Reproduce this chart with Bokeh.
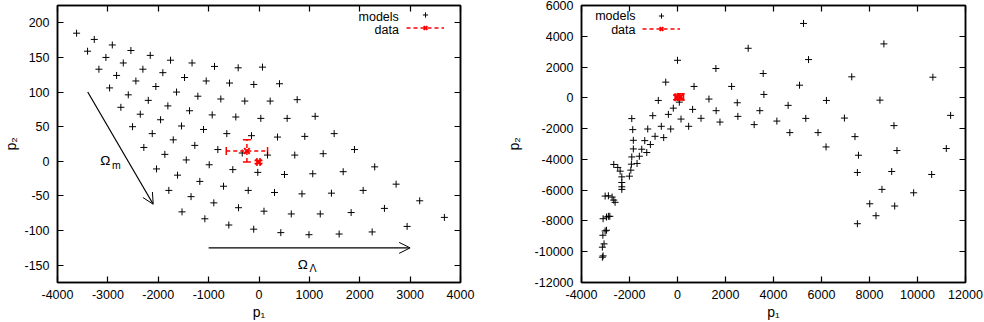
from bokeh.plotting import figure
from bokeh.models import (Arrow, OpenHead, Label, Legend, LegendItem, LinearAxis,
                          FixedTicker, Range1d, Whisker, TeeHead, ColumnDataSource)
from bokeh.layouts import row
from bokeh.embed import file_html
from bokeh.resources import INLINE

FONT = "Liberation Sans"

# ---------------- data: left panel ----------------
left_models_p1 = [
    -3621, -3270, -2912, -2543, -2159, -1756, -1329, -883, -413, 69,
    -3403, -3039, -2694, -2305, -1909, -1478, -1048, -585, -103, 407,
    -3178, -2827, -2444, -2048, -1637, -1214, -758, -282, 222, 758,
    -2966, -2595, -2198, -1809, -1379, -929, -460, 36, 559, 1115,
    -2742, -2357, -1954, -1538, -1101, -639, -149, 367, 909, 1492,
    -2510, -2119, -1702, -1274, -817, -333, 169, 710, 1274, 1895,
    -2286, -1869, -1444, -988, -520, -24, 506, 1067, 1671, 2297,
    -2034, -1617, -1175, -704, -214, 308, 853, 1438, 2067, 2722,
    -1790, -1349, -897, -407, 99, 641, 1216, 1829, 2490, 3190,
    -1528, -1075, -599, -105, 433, 992, 1591, 2246, 2940, 3680]
left_models_p2 = [
    185, 176, 168, 160, 153, 146, 142, 137, 135, 136,
    159, 150, 142, 133, 128, 121, 116, 113, 111, 112,
    133, 124, 116, 108, 100, 94, 90, 87, 87, 89,
    106, 96, 88, 80, 73, 67, 64, 62, 62, 65,
    78, 68, 60, 51, 46, 40, 37, 35, 36, 40,
    50, 40, 31, 23, 17, 12, 9, 9, 11, 17,
    20, 10, 2, -5, -12, -16, -19, -18, -15, -8,
    -11, -20, -29, -36, -42, -45, -47, -46, -42, -33,
    -42, -51, -60, -67, -72, -76, -76, -74, -68, -57,
    -73, -83, -92, -98, -103, -106, -105, -102, -94, -81]
left_data_p1 = [-240, -10]
left_data_p2 = [15, -1]
left_data_err_p1 = [410, 30]
left_data_err_p2 = [16, 2]

# ---------------- data: right panel ----------------
right_models_p1 = [
    0, -490, 690, -800, 1310, 75, -175, 630, 1610, -380,
    -1030, 146, 980, 1770, -1905, -675, 465, -1865, -1240, -283,
    -935, -575, -1840, -1365, -1130, -1840, -1490, -1280, -1905, -1590,
    -2655, -2490, -1920, -1685, -2390, -2320, -2320, -2320, -2320, -1945,
    -2005, -3015, -2880, -2725, -2655, -2600, -3100, -2960, -2880, -2820,
    -3015, -2960, -3110, -3060, -3130, -3100, -3130,
    2255, 2490, 2515, 1600, 2945, 5250, 8600, 5460, 3570, 7260,
    10640, 5085, 3600, 6205, 8435, 3430, 4610, 11380, 3195, 4140,
    5345, 6955, 9020, 4680, 5855, 7395, 6190, 7540, 9145, 11200,
    7495, 8925, 10590, 8520, 9840, 8010, 9050, 8270, 7495]
right_models_p2 = [
    2440, 1020, 740, -170, -80, -280, -670, -750, -835, -1075,
    -1160, -1380, -1330, -1575, -1350, -1850, -1850, -2065, -2025, -2025,
    -2500, -2585, -2760, -2780, -3035, -3320, -3340, -3555, -3840, -3795,
    -4330, -4525, -4310, -4265, -4765, -5135, -5500, -5780, -5950, -4700,
    -5090, -6385, -6365, -6450, -6645, -6790, -7855, -7745, -7700, -7700,
    -8650, -8605, -8930, -9490, -9705, -10270, -10355,
    740, -320, -1205, 1905, 3220, 4835, 3505, 2485, 1580, 1365,
    1340, 820, 220, -170, -150, -835, -490, -1140, -1740, -1510,
    -1335, -1315, -1805, -2260, -2260, -2520, -3190, -3730, -3425, -3295,
    -4850, -4785, -4980, -5950, -6170, -6885, -7030, -7660, -8180]
right_data_p1 = [-20, 130]
right_data_p2 = [30, 60]
right_data_err_p1 = [80, 120]
right_data_err_p2 = [150, 200]

# ---------------- ticks ----------------
left_xticks = [-4000, -3000, -2000, -1000, 0, 1000, 2000, 3000, 4000]
left_yticks = [-150, -100, -50, 0, 50, 100, 150, 200]
right_xticks = [-4000, -2000, 0, 2000, 4000, 6000, 8000, 10000, 12000]
right_yticks = [-12000, -10000, -8000, -6000, -4000, -2000, 0, 2000, 4000, 6000]

legend_labels = ["models", "data"]
axis_labels = ["p\u2081", "p\u2082"]


def style_axis(ax, ticks, show_labels=True):
    ax.ticker = FixedTicker(ticks=ticks)
    ax.major_tick_in = 6
    ax.major_tick_out = 0
    ax.minor_tick_line_color = None
    ax.axis_line_width = 1.5
    ax.major_tick_line_width = 1.2
    if show_labels:
        ax.major_label_overrides = {t: str(t) for t in ticks}
        ax.major_label_text_font = FONT
        ax.major_label_text_font_size = "12.5px"
        ax.major_label_text_color = "black"
        ax.major_label_standoff = 8
        ax.axis_label_text_font = FONT
        ax.axis_label_text_font_size = "14px"
        ax.axis_label_text_font_style = "normal"
        ax.axis_label_text_color = "black"
    else:
        ax.major_label_text_font_size = "0px"
        ax.major_label_text_color = None
        ax.major_label_standoff = 0


def panel(width, border_left, border_right, border_top, xr, yr, xticks, yticks,
          mx, my, dx, dy, ex, ey, legend_loc, legend_text_x, legend_text_y,
          ylabel_standoff):
    p = figure(width=width, height=322, output_backend="svg", toolbar_location=None,
               x_range=Range1d(*xr), y_range=Range1d(*yr),
               min_border_left=border_left, min_border_right=border_right,
               min_border_top=border_top, min_border_bottom=0)
    p.grid.visible = False
    p.outline_line_color = "black"
    p.outline_line_width = 1.5
    p.background_fill_color = "white"
    p.border_fill_color = "white"

    style_axis(p.xaxis[0], xticks)
    style_axis(p.yaxis[0], yticks)
    p.xaxis.axis_label = axis_labels[0]
    p.yaxis.axis_label = axis_labels[1]
    p.xaxis.major_label_standoff = 7
    p.xaxis.axis_label_standoff = 2
    p.yaxis.axis_label_standoff = ylabel_standoff

    top_ax = LinearAxis()
    style_axis(top_ax, xticks, False)
    p.add_layout(top_ax, "above")
    right_ax = LinearAxis()
    style_axis(right_ax, yticks, False)
    p.add_layout(right_ax, "right")

    models_r = p.scatter(mx, my, marker="cross", size=7, line_color="black",
                         line_width=1)

    src = ColumnDataSource(dict(
        x=dx, y=dy,
        xl=[a - b for a, b in zip(dx, ex)], xh=[a + b for a, b in zip(dx, ex)],
        yl=[a - b for a, b in zip(dy, ey)], yh=[a + b for a, b in zip(dy, ey)]))
    seg_h = p.segment(x0="xl", y0="y", x1="xh", y1="y", source=src,
                      line_color="red", line_width=1.5, line_dash="4 3")
    p.segment(x0="x", y0="yl", x1="x", y1="yh", source=src,
              line_color="red", line_width=1.5, line_dash="4 3")
    for dim, base, lo, hi in (("width", "y", "xl", "xh"), ("height", "x", "yl", "yh")):
        w = Whisker(source=src, base=base, lower=lo, upper=hi, dimension=dim,
                    line_alpha=0,
                    lower_head=TeeHead(size=8, line_color="red", line_width=1.5),
                    upper_head=TeeHead(size=8, line_color="red", line_width=1.5))
        p.add_layout(w)
    data_r = p.scatter("x", "y", source=src, marker="x", size=8, line_color="red",
                       line_width=2)

    leg = Legend(items=[LegendItem(label=" ", renderers=[models_r]),
                        LegendItem(label=" ", renderers=[seg_h, data_r])],
                 location=legend_loc, orientation="vertical",
                 glyph_width=38, glyph_height=13, label_height=13, label_width=0,
                 label_standoff=0, spacing=0, padding=0, margin=0,
                 border_line_color=None, background_fill_alpha=0,
                 label_text_font_size="10px", label_text_color=None)
    p.add_layout(leg)
    for txt, ty in zip(legend_labels, legend_text_y):
        p.add_layout(Label(x=legend_text_x, y=ty, text=txt, text_align="right",
                           text_baseline="middle", text_font=FONT,
                           text_font_size="12.5px", text_color="black"))
    return p


left = panel(490, 57, 30, 3, (-4000, 4000), (-175, 225), left_xticks, left_yticks,
             left_models_p1, left_models_p2, left_data_p1, left_data_p2,
             left_data_err_p1, left_data_err_p2,
             (349, 248), 2776, (208.3, 189.3), 2)

# arrows and parameter labels (left panel)
arrow_m = dict(x_start=-3400, y_start=100, x_end=-2100, y_end=-62)
arrow_l = dict(x_start=-1000, y_start=-125, x_end=3000, y_end=-125)
for a in (arrow_m, arrow_l):
    left.add_layout(Arrow(end=OpenHead(size=11, line_width=1, line_color="black"),
                          line_width=1.2, line_color="black", **a))
greek_labels = [
    ("\u03a9", -3150, 1, "13.5px"), ("m", -2920, -5, "10.5px"),
    ("\u03a9", 770, -149, "13.5px"), ("\u039b", 1000, -154, "10.5px")]
for txt, gx, gy, fs in greek_labels:
    left.add_layout(Label(x=gx, y=gy, text=txt, text_align="left",
                          text_baseline="middle", text_font=FONT,
                          text_font_size=fs, text_color="black"))

right = panel(494, 91, 19, 5, (-4000, 12000), (-12000, 6000), right_xticks, right_yticks,
              right_models_p1, right_models_p2, right_data_p1, right_data_p2,
              right_data_err_p1, right_data_err_p2,
              (61, 247), -1750, (5288, 4381), 10)

layout = row(left, right)
open("out.html", "w").write(file_html(layout, INLINE))
